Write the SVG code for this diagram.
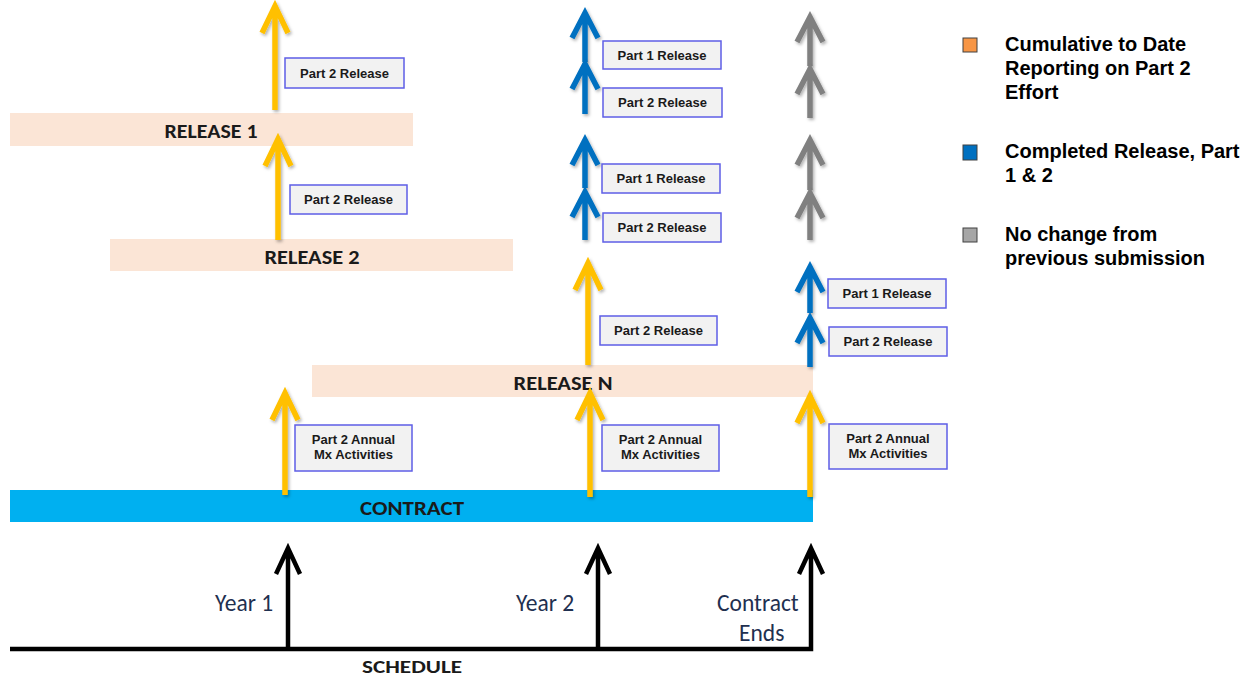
<svg xmlns="http://www.w3.org/2000/svg" width="1253" height="678" viewBox="0 0 1253 678">
<defs>
<style>
.band{fill:#FBE5D6}
.contract{fill:#00B0F0}
.bandlbl{font-family:Carlito,"Liberation Sans Narrow","Liberation Sans",sans-serif;font-weight:bold;font-size:21px;fill:#1a1a1a;text-anchor:middle}
.sched{font-size:19px}
.box{fill:#F2F2F2;stroke:#5E5EE6;stroke-width:1.5}
.boxtxt{font-family:"Liberation Sans",Arial,sans-serif;font-weight:bold;font-size:13px;fill:#1a1a1a;text-anchor:middle}
.yr{font-family:Carlito,"Liberation Sans Narrow","Liberation Sans",sans-serif;font-size:23.5px;fill:#1F3050}
.leg{font-family:"Liberation Sans",Arial,sans-serif;font-weight:bold;font-size:20px;fill:#000}
.arr{fill:none;stroke-width:5.5;stroke-linecap:butt;stroke-linejoin:miter;filter:url(#sh)}
.y{stroke:#FFC000}
.b{stroke:#0070C0}
.g{stroke:#808080}
.k{fill:none;stroke:#000;stroke-width:4.5;stroke-linejoin:miter}
</style>
<filter id="sh" x="-50%" y="-20%" width="200%" height="140%">
<feDropShadow dx="1.5" dy="2" stdDeviation="1.5" flood-color="#000" flood-opacity="0.3"/>
</filter>
</defs>
<rect width="1253" height="678" fill="#fff"/>

<g id="release1"><rect class="band" x="10" y="113" width="403" height="33"/><text class="bandlbl" x="211" y="138" textLength="93" lengthAdjust="spacingAndGlyphs">RELEASE 1</text></g>
<g id="release2"><rect class="band" x="110" y="239" width="403" height="32"/><text class="bandlbl" x="312" y="264" textLength="95" lengthAdjust="spacingAndGlyphs">RELEASE 2</text></g>
<g id="releaseN"><rect class="band" x="312" y="365" width="501" height="32"/><text class="bandlbl" x="563" y="390" textLength="99" lengthAdjust="spacingAndGlyphs">RELEASE N</text></g>
<g id="contract"><rect class="contract" x="10" y="490" width="803" height="32"/><text class="bandlbl" x="412" y="515" textLength="104" lengthAdjust="spacingAndGlyphs">CONTRACT</text></g>

<g id="connectors">
<path class="arr y" d="M275,110V8M262,33L275,6L288,33"/>
<path class="arr y" d="M278,240V141M265,166L278,139L291,166"/>
<path class="arr y" d="M285,495V395M272,420L285,393L298,420"/>
<path class="arr y" d="M590,497V395M577,420L590,393L603,420"/>
<path class="arr y" d="M588,365V265M575,290L588,263L601,290"/>
<path class="arr y" d="M810,497V398M797,423L810,396L823,423"/>

<path class="arr b" d="M585,62V15M572,38L585,13L598,38"/>
<path class="arr b" d="M585,114V66M572,89L585,64L598,89"/>
<path class="arr b" d="M585,188V142M572,165L585,140L598,165"/>
<path class="arr b" d="M585,240V194M572,217L585,192L598,217"/>
<path class="arr b" d="M810,313V269M797,292L810,267L823,292"/>
<path class="arr b" d="M810,367V320M797,343L810,318L823,343"/>

<path class="arr g" d="M810,66V19M797,42L810,17L823,42"/>
<path class="arr g" d="M810,118V71M797,94L810,69L823,94"/>
<path class="arr g" d="M810,190V142M797,165L810,140L823,165"/>
<path class="arr g" d="M810,240V195M797,218L810,193L823,218"/>

<path class="k" d="M10,649H811V550M799,574L811,548L823,574"/>
<path class="k" d="M288,649V550M276,574L288,548L300,574"/>
<path class="k" d="M598,649V550M586,574L598,548L610,574"/>
</g>

<g id="box1"><rect class="box" x="285" y="58" width="119" height="30"/><text class="boxtxt" x="344.5" y="77.5">Part 2 Release</text></g>
<g id="box2"><rect class="box" x="290" y="185" width="117" height="29"/><text class="boxtxt" x="348.5" y="204">Part 2 Release</text></g>
<g id="box3"><rect class="box" x="603" y="41" width="118" height="28"/><text class="boxtxt" x="662" y="59.5">Part 1 Release</text></g>
<g id="box4"><rect class="box" x="603" y="88" width="119" height="29"/><text class="boxtxt" x="662.5" y="107">Part 2 Release</text></g>
<g id="box5"><rect class="box" x="602" y="164" width="118" height="29"/><text class="boxtxt" x="661" y="183">Part 1 Release</text></g>
<g id="box6"><rect class="box" x="603" y="213" width="118" height="29"/><text class="boxtxt" x="662" y="232">Part 2 Release</text></g>
<g id="box7"><rect class="box" x="600" y="316" width="117" height="29"/><text class="boxtxt" x="658.5" y="335">Part 2 Release</text></g>
<g id="box8"><rect class="box" x="828" y="279" width="118" height="29"/><text class="boxtxt" x="887" y="298">Part 1 Release</text></g>
<g id="box9"><rect class="box" x="829" y="327" width="118" height="29"/><text class="boxtxt" x="888" y="346">Part 2 Release</text></g>
<g id="box10"><rect class="box" x="295" y="425" width="117" height="46"/><text class="boxtxt" x="353.5" y="444">Part 2 Annual</text><text class="boxtxt" x="353.5" y="459">Mx Activities</text></g>
<g id="box11"><rect class="box" x="602" y="425" width="117" height="46"/><text class="boxtxt" x="660.5" y="444">Part 2 Annual</text><text class="boxtxt" x="660.5" y="459">Mx Activities</text></g>
<g id="box12"><rect class="box" x="829" y="424" width="118" height="45"/><text class="boxtxt" x="888" y="443">Part 2 Annual</text><text class="boxtxt" x="888" y="458">Mx Activities</text></g>

<g id="schedule">
<text class="yr" x="215" y="611">Year 1</text>
<text class="yr" x="516" y="611">Year 2</text>
<text class="yr" x="717" y="611">Contract</text>
<text class="yr" x="739" y="641">Ends</text>
<text class="bandlbl sched" x="412" y="673" textLength="100" lengthAdjust="spacingAndGlyphs">SCHEDULE</text>
</g>

<g id="legend">
<rect x="963" y="38" width="14" height="14" fill="#F79646" stroke="#404040" stroke-width="1"/>
<text class="leg" x="1005" y="51">Cumulative to Date</text>
<text class="leg" x="1005" y="75">Reporting on Part 2</text>
<text class="leg" x="1005" y="99">Effort</text>
<rect x="963" y="145" width="14" height="15" fill="#0070C0" stroke="#404040" stroke-width="1"/>
<text class="leg" x="1005" y="158">Completed Release, Part</text>
<text class="leg" x="1005" y="182">1 &amp; 2</text>
<rect x="963" y="228" width="14" height="14" fill="#A6A6A6" stroke="#404040" stroke-width="1"/>
<text class="leg" x="1005" y="241">No change from</text>
<text class="leg" x="1005" y="265">previous submission</text>
</g>
</svg>
